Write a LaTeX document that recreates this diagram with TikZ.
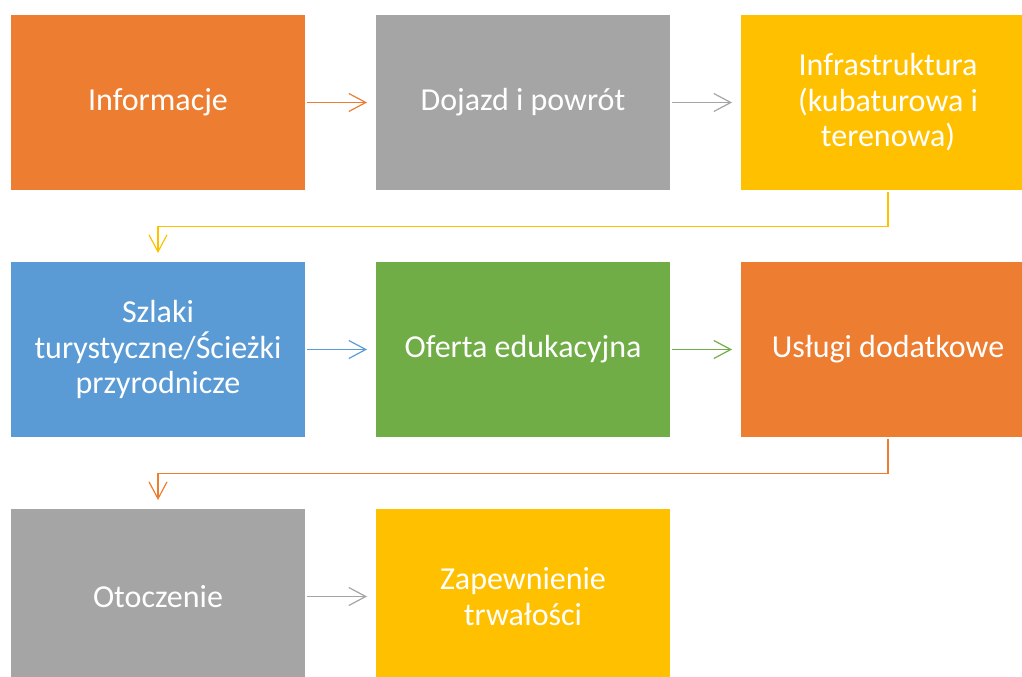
\documentclass[tikz,border=0pt]{standalone}
\usepackage{fontspec}
\setmainfont{Carlito}
\usetikzlibrary{arrows.meta}
\definecolor{pomarancz}{HTML}{ED7D31}
\definecolor{szary}{HTML}{A5A5A5}
\definecolor{zolty}{HTML}{FFC000}
\definecolor{niebieski}{HTML}{5B9BD5}
\definecolor{zielony}{HTML}{70AD47}
\tikzset{
  krok/.style={rectangle, fill=#1, text=white, minimum width=220.5pt, minimum height=131.25pt,
    inner sep=0pt, align=center, font=\fontsize{24}{26.6}\selectfont},
  strz/.style={draw=#1, line width=0.9pt, shorten <=1.5pt, shorten >=6.5pt,
    -{Straight Barb[length=12.75pt, width=13.5pt, line width=0.9pt]}}
}

\begin{document}
\begin{tikzpicture}[x=0.75pt, y=-0.75pt]
\useasboundingbox (0,0) rectangle (1022,677);
% wiersz 1
\node[krok=pomarancz] (info) at (158,102.5) {Informacje};
\node[krok=szary] (dojazd) at (523,102.5) {Dojazd i powrót};
\node[krok=zolty] (infra) at (888,102.5) {Infrastruktura\\(kubaturowa i\\terenowa)};
% wiersz 2
\node[krok=niebieski] (szlaki) at (158,349.5) {Szlaki\\turystyczne/Ścieżki\\przyrodnicze};
\node[krok=zielony] (oferta) at (523,349.5) {Oferta edukacyjna};
\node[krok=pomarancz] (uslugi) at (888,349.5) {Usługi dodatkowe};
% wiersz 3
\node[krok=szary] (otoczenie) at (158,596.5) {Otoczenie};
\node[krok=zolty] (trwalosc) at (523,596.5) {Zapewnienie\\trwałości};
% strzalki
\draw[strz=pomarancz] (info) -- (dojazd);
\draw[strz=szary] (dojazd) -- (infra);
\draw[strz=zolty] (infra.south) -- ++(0,36) -| (szlaki.north);
\draw[strz=niebieski] (szlaki) -- (oferta);
\draw[strz=zielony] (oferta) -- (uslugi);
\draw[strz=pomarancz] (uslugi.south) -- ++(0,36) -| (otoczenie.north);
\draw[strz=szary] (otoczenie) -- (trwalosc);
\end{tikzpicture}
\end{document}
